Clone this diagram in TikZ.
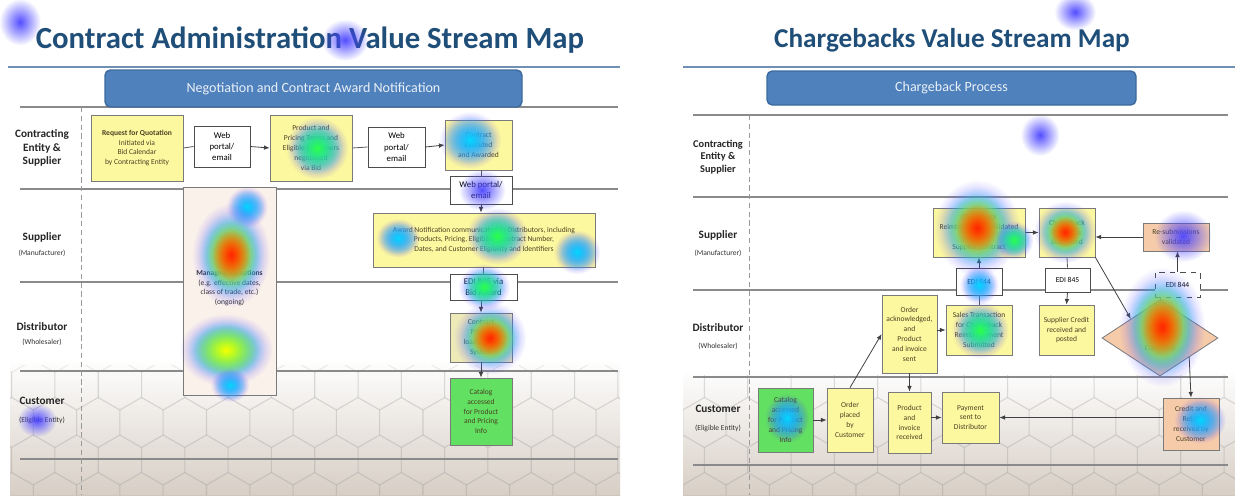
\documentclass[tikz,border=0pt]{standalone}
\usepackage{fontspec}
\setmainfont{Carlito}
\usetikzlibrary{shapes.geometric,arrows.meta,fadings}
\definecolor{titleblue}{HTML}{1F4E79}
\definecolor{rulec}{HTML}{6F8FB3}
\definecolor{hdr}{HTML}{4F81BD}
\definecolor{hdrb}{HTML}{3C6A9E}
\definecolor{lanec}{HTML}{8A8A8A}
\definecolor{yel}{HTML}{FCF8A0}
\definecolor{grn}{HTML}{62E062}
\definecolor{sal}{HTML}{F6CBAA}
\definecolor{pinkbg}{HTML}{FBF1EB}
\definecolor{dy}{HTML}{EEEAB8}
\definecolor{bgd}{HTML}{D0C5BA}
\definecolor{bord}{HTML}{7A7A7A}
\definecolor{btxt}{HTML}{4A4222}
\definecolor{hb}{HTML}{4A44FF}
\definecolor{hc}{HTML}{00E0FF}
\definecolor{hg}{HTML}{30FF40}
\definecolor{hy}{HTML}{FFFF00}
\definecolor{ho}{HTML}{FF8C00}
\definecolor{hr}{HTML}{FF2000}
\tikzfading[name=fuzzy, inner color=transparent!0, outer color=transparent!100]
\newcommand\bxf{\fontsize{4.3}{5.6}\selectfont}
\newcommand\heat[5]{%
  \foreach \hcol/\hs [count=\hk] in {hb/1.3,hc/1.1,hg/0.95,hy/0.83,ho/0.73,hr/0.63}{%
    \ifnum\hk>#5\relax\else
      \fill[\hcol, path fading=fuzzy, fill opacity=0.95] (#1,#2) ellipse [x radius=\hs*#3, y radius=\hs*#4];
    \fi}}
\tikzset{
  wh/.style 2 args={minimum width=#1*0.02cm, minimum height=#2*0.02cm},
  bx/.style={draw=bord, line width=0.45pt, align=center, inner sep=0.5pt, font=\bxf, text=btxt},
  web/.style={draw=black!70, line width=0.45pt, fill=white, align=center, inner sep=0.5pt, font=\fontsize{5}{6.4}\selectfont},
  hdrbox/.style={rounded corners=3pt, fill=hdr, draw=hdrb, line width=0.8pt, text=white!88!hdr, font=\fontsize{8}{10}\selectfont},
  ttl/.style={font=\fontsize{15.5}{18}\selectfont\bfseries, text=titleblue},
  lab/.style={align=center, font=\fontsize{6.4}{7.6}\selectfont\bfseries, text=black!85},
  sublab/.style={font=\fontsize{4.3}{5}\selectfont, text=black!80},
  lanel/.style={draw=lanec, line width=0.7pt},
  vdash/.style={draw=gray!80, line width=0.4pt, densely dashed},
  arr/.style={-{Latex[length=3.2pt,width=2.6pt]}, draw=black!75, line width=0.45pt},
  ln/.style={draw=black!65, line width=0.45pt},
  hexst/.style={draw=black!45, draw opacity=0.16, line width=0.6pt, fill=white, fill opacity=0.16}
}
\begin{document}
\begin{tikzpicture}[x=0.02cm,y=-0.02cm]
\useasboundingbox (0,0) rectangle (1235,495);
\fill[white] (0,0) rectangle (1235,495);
% bottom patterned background
\shade[top color=white, bottom color=bgd] (10,360) rectangle (620,495);
\shade[top color=white, bottom color=bgd] (683,370) rectangle (1235,495);
\begin{scope}
\clip (10,365) rectangle (620,495) (683,375) rectangle (1235,495);
\foreach \r in {0,...,4}{
  \foreach \c in {0,...,29}{
    \pgfmathsetmacro\cx{\c*43.3 + mod(\r,2)*21.65 - 10}
    \pgfmathsetmacro\cy{385 + \r*37.5}
    \draw[hexst] (\cx,\cy) +(30:25) -- +(90:25) -- +(150:25) -- +(210:25) -- +(270:25) -- +(330:25) -- cycle;
  }}
\end{scope}

% ================= LEFT SLIDE =================
\node[ttl, font=\fontsize{17.5}{20}\selectfont\bfseries] (t1) at (310,40) {Contract Administration Value Stream Map};
\draw[draw=rulec, line width=1.2pt] (8,67) -- (620,67);
\foreach \yy in {107,189,282,371,459} \draw[lanel] (20,\yy) -- (618,\yy);
\draw[vdash] (81,107) -- (81,495);
\node[hdrbox, wh={417}{37}] (h1) at (313.5,88.5) {Negotiation and Contract Award Notification};

\node[lab] (la1) at (42,148) {Contracting\\Entity \&\\Supplier};
\node[lab] (la2) at (42,237) {Supplier};
\node[sublab] (la2s) at (42,253) {(Manufacturer)};
\node[lab] (la3) at (42,327) {Distributor};
\node[sublab] (la3s) at (42,342) {(Wholesaler)};
\node[lab] (la4) at (42,401) {Customer};
\node[sublab] (la4s) at (42,420) {(Eligible Entity)};

\node[bx, fill=pinkbg, wh={93}{208}] (man) at (229.5,291) {};
\node[align=center, font=\bxf, text=black!80, inner sep=0pt] (mant) at (229.5,288) {\textbf{Managing Exceptions}\\(e.g. effective dates,\\class of trade, etc.)\\(ongoing)};
\node[bx, fill=yel, wh={92}{66}] (rfq) at (137,148) {\textbf{Request for Quotation}\\Initiated via\\Bid Calendar\\by Contracting Entity};
\node[web, wh={56}{41}] (w1) at (222,146.5) {Web\\portal/\\email};
\node[bx, fill=yel, wh={82}{66}] (prod) at (311,148) {Product and\\Pricing Terms and\\Eligible Customers\\negotiated\\via Bid};
\node[web, wh={57}{40}] (w2) at (396.5,147) {Web\\portal/\\email};
\node[bx, fill=yel, wh={67}{50}] (contr) at (478.5,145) {Contract\\Executed\\and Awarded};
\node[web, wh={62}{28}] (w3) at (481,190) {Web portal/\\email};
\node[bx, fill=yel, wh={222}{54}] (award) at (484,240) {Award Notification communicated to Distributors, including\\Products, Pricing, Eligibility, Contract Number,\\Dates, and Customer Eligibility and Identifiers};
\node[web, wh={67}{26}] (edi1) at (483.5,287) {EDI 845 via\\Bid Award};
\node[bx, fill=dy, wh={62}{49}] (dist) at (481,337.5) {Contract\\Pricing\\loaded into\\System};
\node[bx, fill=grn, wh={62}{67}] (cat1) at (481,411.5) {Catalog\\accessed\\for Product\\and Pricing\\Info};

\draw[ln] (rfq.east) -- (w1.west);
\draw[arr] (w1.east) -- (prod.west);
\draw[ln] (prod.east) -- (w2.west);
\draw[arr] (w2.east) -- (contr.west);
\draw[ln] (contr.south -| w3.north) -- (w3.north);
\draw[arr] (w3.south) -- (award.north -| w3.south);
\draw[ln] (award.south -| edi1.north) -- (edi1.north);
\draw[arr] (edi1.south -| dist.north) -- (dist.north);
\draw[arr] (dist.south) -- (cat1.north);

% ================= RIGHT SLIDE =================
\node[ttl] (t2) at (952,40) {Chargebacks Value Stream Map};
\draw[draw=rulec, line width=1.2pt] (683,67) -- (1235,67);
\foreach \yy in {115,197,290,377,465} \draw[lanel] (693,\yy) -- (1228,\yy);
\draw[vdash] (749,115) -- (749,495);
\node[hdrbox, wh={369}{34}] (h2) at (951.5,88) {Chargeback Process};

\node[lab, font=\fontsize{5.9}{7.3}\selectfont\bfseries] (lb1) at (718,157) {Contracting\\Entity \&\\Supplier};
\node[lab] (lb2) at (718,235) {Supplier};
\node[sublab] (lb2s) at (718,253) {(Manufacturer)};
\node[lab] (lb3) at (718,328) {Distributor};
\node[sublab] (lb3s) at (718,346) {(Wholesaler)};
\node[lab] (lb4) at (718,409) {Customer};
\node[sublab] (lb4s) at (718,428) {(Eligible Entity)};

\node[bx, fill=yel, wh={92}{49}] (ra) at (979,232.5) {Chargeback\\Reimbursement validated\\against\\Supplier Contract};
\node[web, font=\bxf, wh={46}{27}] (e844a) at (979,281.5) {EDI 844};
\node[bx, fill=yel, wh={56}{49}] (rb) at (1067,232.5) {Chargeback\\Response\\Submitted};
\node[web, font=\bxf, wh={45}{24}] (e845) at (1067.5,280) {EDI 845};
\node[bx, fill=sal, wh={66}{28}] (resub) at (1176,237) {Re-submissions\\validated};
\node[web, font=\bxf, dashed, wh={45}{25}] (e844b) at (1177.5,284.5) {EDI 844};
\node[bx, fill=sal, diamond, wh={116}{76}, inner sep=0pt] (diam) at (1160,338) {Rejected\\Claims\\Corrected};
\node[bx, fill=yel, wh={55}{78}] (ack) at (909.5,334) {Order\\acknowledged,\\and\\Product\\and invoice\\sent};
\node[bx, fill=yel, wh={66}{50}] (sales) at (979,330) {Sales Transaction\\for Chargeback\\Reimbursement\\Submitted};
\node[bx, fill=yel, wh={55}{50}] (supc) at (1066.5,330) {Supplier Credit\\received and\\posted};
\node[bx, fill=grn, wh={55}{64}] (cat2) at (785.5,420) {Catalog\\accessed\\for Product\\and Pricing\\Info};
\node[bx, fill=yel, wh={46}{64}] (plc) at (850,420) {Order\\placed\\by\\Customer};
\node[bx, fill=yel, wh={43}{61}] (prec) at (909.5,422.5) {Product\\and\\invoice\\received};
\node[bx, fill=yel, wh={57}{51}] (pay) at (970.5,417.5) {Payment\\sent to\\Distributor};
\node[bx, fill=sal, wh={56}{52}] (cred) at (1191,424) {Credit and\\Rebill\\received by\\Customer};

\draw[arr] (cat2.east) -- (plc.west);
\draw[arr] (plc.north) -- (ack.west);
\draw[arr] (ack.south) -- (prec.north);
\draw[arr] (prec.east |- pay.west) -- (pay.west);
\draw[arr] (cred.west |- pay.east) -- (pay.east);
\draw[arr] (ack.east |- sales.west) -- (sales.west);
\draw[ln] (sales.north) -- (e844a.south);
\draw[arr] (e844a.north) -- (ra.south);
\draw[arr] (ra.east) -- (rb.west);
\draw[arr] (resub.west) -- (resub.west -| rb.east);
\draw[ln] (rb.south) -- (e845.north);
\draw[arr] (e845.south) -- (supc.north);
\draw[arr] (rb.south east) -- (diam.north west);
\draw[ln] (diam.north) -- (diam.north |- e844b.south);
\draw[arr] (e844b.north) -- (resub.south -| e844b.north);
\draw[arr] (diam.south east) -- (cred.north);

% ================= HEAT MAP OVERLAY =================
\heat{20}{22}{16}{18}{1}
\heat{345}{40}{18}{16}{1}
\heat{247}{207}{16}{16}{2}
\heat{231}{255}{30}{40}{6}
\heat{226}{350}{36}{28}{4}
\heat{230}{385}{15}{13}{2}
\heat{37}{420}{15}{13}{1}
\heat{317}{148}{24}{24}{3}
\heat{470}{140}{24}{22}{2}
\heat{482}{190}{18}{16}{1}
\heat{398}{238}{17}{15}{2}
\heat{497}{236}{24}{22}{3}
\heat{577}{252}{18}{17}{2}
\heat{484}{287}{20}{18}{3}
\heat{490}{338}{28}{28}{6}
\heat{1075}{12}{16}{14}{1}
\heat{1040}{135}{15}{16}{1}
\heat{977}{228}{33}{37}{6}
\heat{1014}{240}{15}{15}{3}
\heat{1065}{232}{24}{24}{6}
\heat{979}{285}{15}{15}{2}
\heat{980}{330}{22}{22}{3}
\heat{1183}{236}{22}{20}{1}
\heat{1162}{327}{33}{46}{6}
\heat{1200}{420}{20}{18}{2}
\heat{787}{418}{17}{19}{2}
\end{tikzpicture}
\end{document}
